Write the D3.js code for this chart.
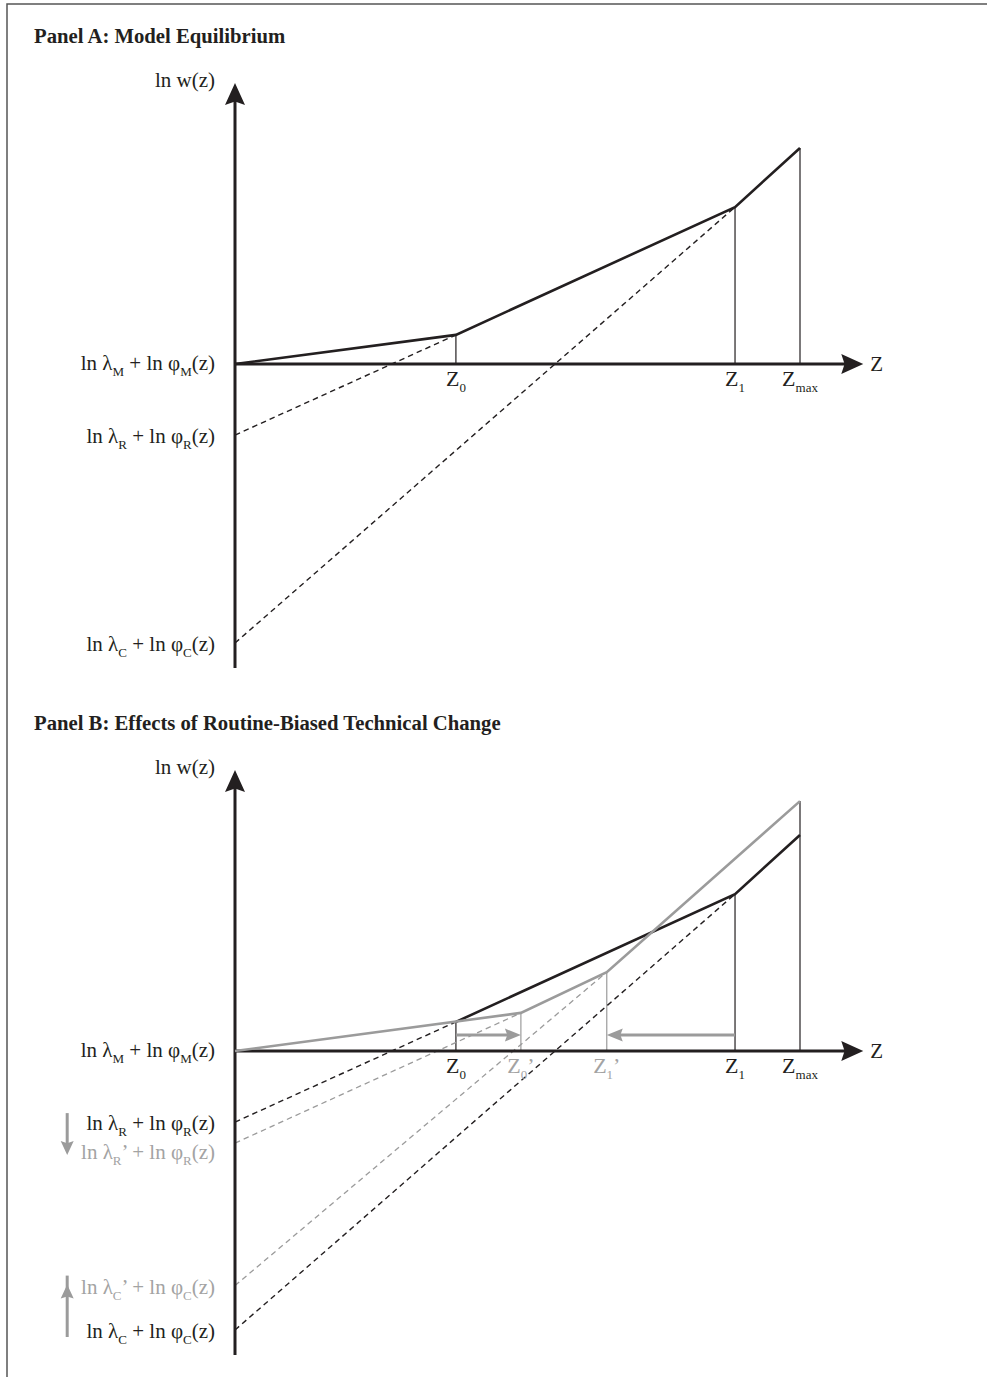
<!DOCTYPE html>
<html>
<head>
<meta charset="utf-8">
<script src="https://cdn.jsdelivr.net/npm/d3@7"></script>
<style>
  body { margin: 0; background: #fff; }
  svg text { font-family: "Liberation Serif", "Times New Roman", serif; }
</style>
</head>
<body>
<div id="chart"></div>
<script>
// Values. z runs 0..100 (Zmax = 100), ln w in the same arbitrary units.
var cutNamesA = [["Z", "0"], ["Z", "1"], ["Z", "max"]];
var cutZA = [39.1, 88.5, 100];
var wageZ = [0, 39.1, 88.5, 100];          // kinks of the equilibrium wage curve
var wageY = [0, 9.7, 52.3, 72];
var taskNames = ["M", "R", "C"];
var intercepts = [0, -23.7, -93];          // ln lambda + ln phi at z = 0
var meetZ = [0, 39.1, 88.5];               // where each dashed line joins the curve
var meetY = [0, 9.7, 52.3];

// Panel B: after routine-biased technical change
var cutNamesB = [["Z", "0", ""], ["Z", "0", "’"], ["Z", "1", "’"], ["Z", "1", ""], ["Z", "max", ""]];
var cutZB = [39.1, 50.6, 65.8, 88.5, 100];
var cutIsNew = [false, true, true, false, false];
var newWageZ = [0, 50.6, 65.8, 100];
var newWageY = [0, 12.7, 26.3, 83.3];
var newIntercepts = [-30.7, -78.2];        // R', C'
var newMeetZ = [50.6, 65.8];
var newMeetY = [12.7, 26.3];
var shiftFrom = [39.1, 88.5];              // Z0 -> Z0', Z1 -> Z1'
var shiftTo = [50.6, 65.8];
var shiftY = 5.3;

var yAxisMin = -101.3, yAxisMax = 93.7, xAxisMax = 111.2;

var black = "#231f20", grey = "#9b9b9b", greyText = "#a3a3a3";

var svg = d3.select("#chart").append("svg")
    .attr("width", 987)
    .attr("height", 1377);

// frame round the whole figure
svg.append("rect")
    .attr("x", 7).attr("y", 4)
    .attr("width", 1000).attr("height", 1400)
    .attr("fill", "none")
    .attr("stroke", "#555")
    .attr("stroke-width", 1.5);

var x = d3.scaleLinear().domain([0, 100]).range([235, 800]);

// Label made of pieces, subscripts and primes as tspans
function addLabel(g, px, py, parts, color, anchor, size) {
    size = size || 21;
    var t = g.append("text")
        .attr("x", px).attr("y", py)
        .attr("fill", color)
        .attr("font-size", size)
        .attr("text-anchor", anchor);
    var down = false;
    parts.forEach(function (p) {
        if (p === "") return;
        var isSub = /^[A-Z0-9a-z]+$/.test(p) && p !== "Z" && p !== "(z)";
        var s = t.append("tspan").text(p);
        if (isSub && !down) { s.attr("font-size", Math.round(size * 0.6)).attr("dy", 6); down = true; }
        else if (!isSub && down) { s.attr("dy", -6); down = false; }
    });
    return t;
}

function arrowHead(g, tipX, tipY, dir, len, half, color) {
    // dir: unit vector pointing where the tip points
    var dx = dir[0], dy = dir[1];
    var nx = -dy, ny = dx;
    var bx = tipX - dx * len, by = tipY - dy * len;
    var notch = len * 0.15;
    var pts = [
        [tipX, tipY],
        [bx + nx * half, by + ny * half],
        [bx + dx * notch, by + dy * notch],
        [bx - nx * half, by - ny * half]
    ];
    g.append("path")
        .attr("d", "M" + pts.map(function (p) { return p.join(","); }).join("L") + "Z")
        .attr("fill", color);
}

function taskLabel(name, prime) {
    return ["ln λ", name, prime ? "’" : "", " + ln φ", name, "(z)"];
}

function drawPanel(top, title, panelB) {
    var g = svg.append("g");
    var y = d3.scaleLinear().domain([0, 100]).range([top + 321, top + 21]);
    var line = d3.line()
        .x(function (d) { return x(d[0]); })
        .y(function (d) { return y(d[1]); });

    g.append("text")
        .attr("x", 34).attr("y", top)
        .attr("font-size", 20.7)
        .attr("font-weight", "bold")
        .attr("fill", black)
        .text(title);

    // vertical cut-off lines
    var cuts = panelB ? cutZB : cutZA;
    cuts.forEach(function (z, i) {
        var h;
        if (!panelB) h = wageY[wageZ.indexOf(z)];
        else if (cutIsNew[i]) h = newWageY[newWageZ.indexOf(z)];
        else if (z === 100) h = newWageY[3];
        else h = wageY[wageZ.indexOf(z)];
        g.append("line")
            .attr("x1", x(z)).attr("x2", x(z))
            .attr("y1", y(0)).attr("y2", y(h))
            .attr("stroke", panelB && cutIsNew[i] ? grey : black)
            .attr("stroke-width", 1.2);
    });

    // dashed task lines
    for (var i = 1; i < taskNames.length; i++) {
        g.append("path")
            .datum([[0, intercepts[i]], [meetZ[i], meetY[i]]])
            .attr("d", line)
            .attr("fill", "none")
            .attr("stroke", black)
            .attr("stroke-width", 1.4)
            .attr("stroke-dasharray", "5.5,4");
    }
    if (panelB) {
        for (var j = 0; j < newIntercepts.length; j++) {
            g.append("path")
                .datum([[0, newIntercepts[j]], [newMeetZ[j], newMeetY[j]]])
                .attr("d", line)
                .attr("fill", "none")
                .attr("stroke", grey)
                .attr("stroke-width", 1.3)
                .attr("stroke-dasharray", "5.5,4");
        }
    }

    // axes
    g.append("line")
        .attr("x1", x(0)).attr("x2", x(0))
        .attr("y1", y(yAxisMin)).attr("y2", y(yAxisMax) + 18)
        .attr("stroke", black).attr("stroke-width", 3);
    arrowHead(g, x(0), y(yAxisMax), [0, -1], 22, 10, black);
    g.append("line")
        .attr("x1", x(0)).attr("x2", x(xAxisMax) - 18)
        .attr("y1", y(0)).attr("y2", y(0))
        .attr("stroke", black).attr("stroke-width", 3);
    arrowHead(g, x(xAxisMax), y(0), [1, 0], 22, 10, black);

    // wage curves
    var oldPts = wageZ.map(function (z, k) { return [z, wageY[k]]; });
    if (panelB) oldPts = oldPts.slice(1);
    g.append("path")
        .datum(oldPts)
        .attr("d", line)
        .attr("fill", "none")
        .attr("stroke", black)
        .attr("stroke-width", 2.6)
        .attr("stroke-linejoin", "miter");
    if (panelB) {
        g.append("path")
            .datum(newWageZ.map(function (z, k) { return [z, newWageY[k]]; }))
            .attr("d", line)
            .attr("fill", "none")
            .attr("stroke", grey)
            .attr("stroke-width", 2.6);

        // shifts of the cut-offs
        for (var s = 0; s < shiftFrom.length; s++) {
            var dir = shiftTo[s] > shiftFrom[s] ? 1 : -1;
            g.append("line")
                .attr("x1", x(shiftFrom[s])).attr("x2", x(shiftTo[s]) - dir * 12)
                .attr("y1", y(shiftY)).attr("y2", y(shiftY))
                .attr("stroke", grey).attr("stroke-width", 3);
            arrowHead(g, x(shiftTo[s]), y(shiftY), [dir, 0], 16, 6.5, grey);
        }
    }

    // axis titles
    addLabel(g, x(0) - 20, y(yAxisMax) + 4, ["ln w(z)"], black, "end");
    addLabel(g, x(xAxisMax) + 7, y(0) + 7, ["Z"], black, "start");

    // cut-off labels under the axis
    var names = panelB ? cutNamesB : cutNamesA;
    cuts.forEach(function (z, i) {
        var col = panelB && cutIsNew[i] ? greyText : black;
        addLabel(g, x(z), y(0) + 22, names[i], col, "middle", 22);
    });

    // intercept labels on the left
    addLabel(g, x(0) - 20, y(intercepts[0]) + 6, taskLabel("M"), black, "end");
    addLabel(g, x(0) - 20, y(intercepts[1]) + 8, taskLabel("R"), black, "end");
    addLabel(g, x(0) - 20, y(intercepts[2]) + 8, taskLabel("C"), black, "end");
    if (panelB) {
        addLabel(g, x(0) - 20, y(newIntercepts[0]) + 16, taskLabel("R", true), greyText, "end");
        addLabel(g, x(0) - 20, y(newIntercepts[1]) + 8, taskLabel("C", true), greyText, "end");

        // direction of the lambda changes
        var ax = x(-29.7);
        g.append("line")
            .attr("x1", ax).attr("x2", ax)
            .attr("y1", y(intercepts[1]) - 9).attr("y2", y(newIntercepts[0]) + 2)
            .attr("stroke", grey).attr("stroke-width", 3);
        arrowHead(g, ax, y(newIntercepts[0]) + 12, [0, 1], 14, 6.5, grey);
        g.append("line")
            .attr("x1", ax).attr("x2", ax)
            .attr("y1", y(intercepts[2]) + 7).attr("y2", y(newIntercepts[1]) - 10)
            .attr("stroke", grey).attr("stroke-width", 3);
        arrowHead(g, ax, y(newIntercepts[1]) - 1, [0, -1], 14, 6.5, grey);
    }
}

drawPanel(43, "Panel A: Model Equilibrium", false);
drawPanel(730, "Panel B: Effects of Routine-Biased Technical Change", true);
</script>
</body>
</html>
